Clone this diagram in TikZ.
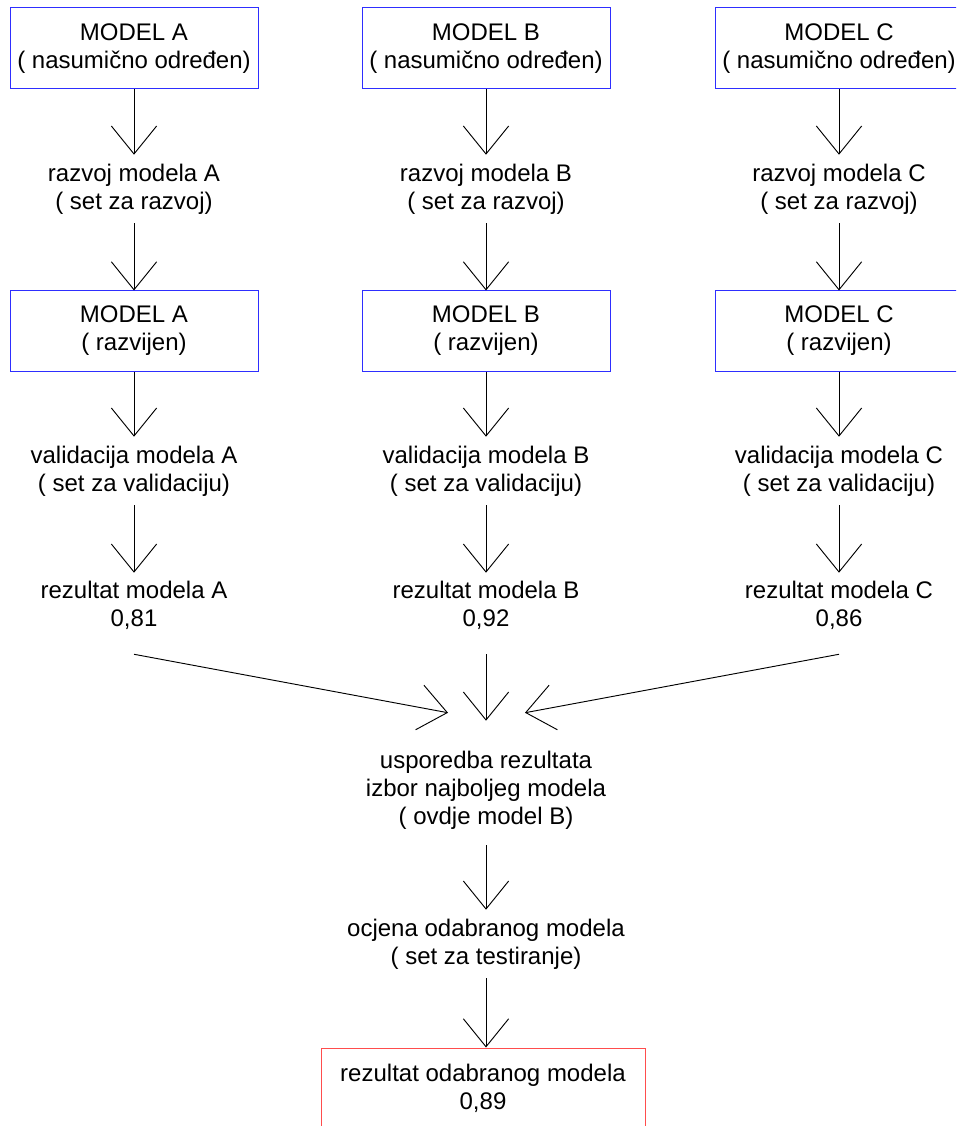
\documentclass[tikz,border=0pt]{standalone}
\usepackage{fontspec}
\setmainfont{Liberation Sans}
\usepackage{tikz}
\usetikzlibrary{arrows.meta,calc}
\definecolor{plava}{HTML}{2E2EFF}
\definecolor{crvena}{HTML}{FF4D4D}
\tikzset{
  strelica/.style={-{Straight Barb[length=21pt,width=34pt]},black,line width=0.7pt},
  okvir/.style={draw=plava,line width=0.75pt,minimum width=186pt,minimum height=60.75pt,inner sep=0pt,align=center,font=\fontsize{18}{21}\selectfont},
  okvirc/.style={okvir,draw=crvena,minimum width=243pt,minimum height=60pt},
  tekst/.style={inner sep=0pt,align=center,font=\fontsize{18}{21}\selectfont,minimum height=51pt},
}

\begin{document}
\begin{tikzpicture}[x=0.75pt,y=-0.75pt]
  \useasboundingbox (0,0) rectangle (956,1126);
  \clip (0,0) rectangle (956,1126);
  % model A
  \node[okvir] (mA) at (134,48.5) {MODEL A\\( nasumično određen)};
  \node[tekst] (rzA) at (134,189) {razvoj modela A\\( set za razvoj)};
  \node[okvir,minimum height=60pt] (dA) at (134,331) {MODEL A\\( razvijen)};
  \node[tekst] (vA) at (134,471) {validacija modela A\\( set za validaciju)};
  \node[tekst,minimum height=48pt] (rA) at (134,605) {rezultat modela A\\0,81};
  % model B
  \node[okvir] (mB) at (486,48.5) {MODEL B\\( nasumično određen)};
  \node[tekst] (rzB) at (486,189) {razvoj modela B\\( set za razvoj)};
  \node[okvir,minimum height=60pt] (dB) at (486,331) {MODEL B\\( razvijen)};
  \node[tekst] (vB) at (486,471) {validacija modela B\\( set za validaciju)};
  \node[tekst,minimum height=48pt] (rB) at (486,605) {rezultat modela B\\0,92};
  % model C
  \node[okvir] (mC) at (839,48.5) {MODEL C\\( nasumično određen)};
  \node[tekst] (rzC) at (839,189) {razvoj modela C\\( set za razvoj)};
  \node[okvir,minimum height=60pt] (dC) at (839,331) {MODEL C\\( razvijen)};
  \node[tekst] (vC) at (839,471) {validacija modela C\\( set za validaciju)};
  \node[tekst,minimum height=48pt] (rC) at (839,605) {rezultat modela C\\0,86};
  % izbor i ocjena
  \node[tekst,minimum height=82.5pt] (usp) at (486,790) {usporedba rezultata\\izbor najboljeg modela\\( ovdje model B)};
  \node[tekst] (ocj) at (486,944) {ocjena odabranog modela\\( set za testiranje)};
  \node[okvirc] (kraj) at (483,1088) {rezultat odabranog modela\\0,89};
  \coordinate (izA) at ($(rA.south)+(0,17)$);
  \coordinate (izB) at ($(rB.south)+(0,17)$);
  \coordinate (izC) at ($(rC.south)+(0,17)$);
  \coordinate (ulA) at ($(usp.north)+(-38,-22)$);
  \coordinate (ulB) at ($(usp.north)+(0,-14)$);
  \coordinate (ulC) at ($(usp.north)+(39,-22)$);
  % strelice
  \draw[strelica] (mA) -- (rzA);
  \draw[strelica] (rzA) -- (dA);
  \draw[strelica] (dA) -- (vA);
  \draw[strelica] (vA) -- (rA);
  \draw[strelica] (mB) -- (rzB);
  \draw[strelica] (rzB) -- (dB);
  \draw[strelica] (dB) -- (vB);
  \draw[strelica] (vB) -- (rB);
  \draw[strelica] (mC) -- (rzC);
  \draw[strelica] (rzC) -- (dC);
  \draw[strelica] (dC) -- (vC);
  \draw[strelica] (vC) -- (rC);
  \draw[strelica] (izA) -- (ulA);
  \draw[strelica] (izB) -- (ulB);
  \draw[strelica] (izC) -- (ulC);
  \draw[strelica] (usp) -- (ocj);
  \draw[strelica] (ocj.south) -- (ocj.south |- kraj.north);
\end{tikzpicture}
\end{document}
